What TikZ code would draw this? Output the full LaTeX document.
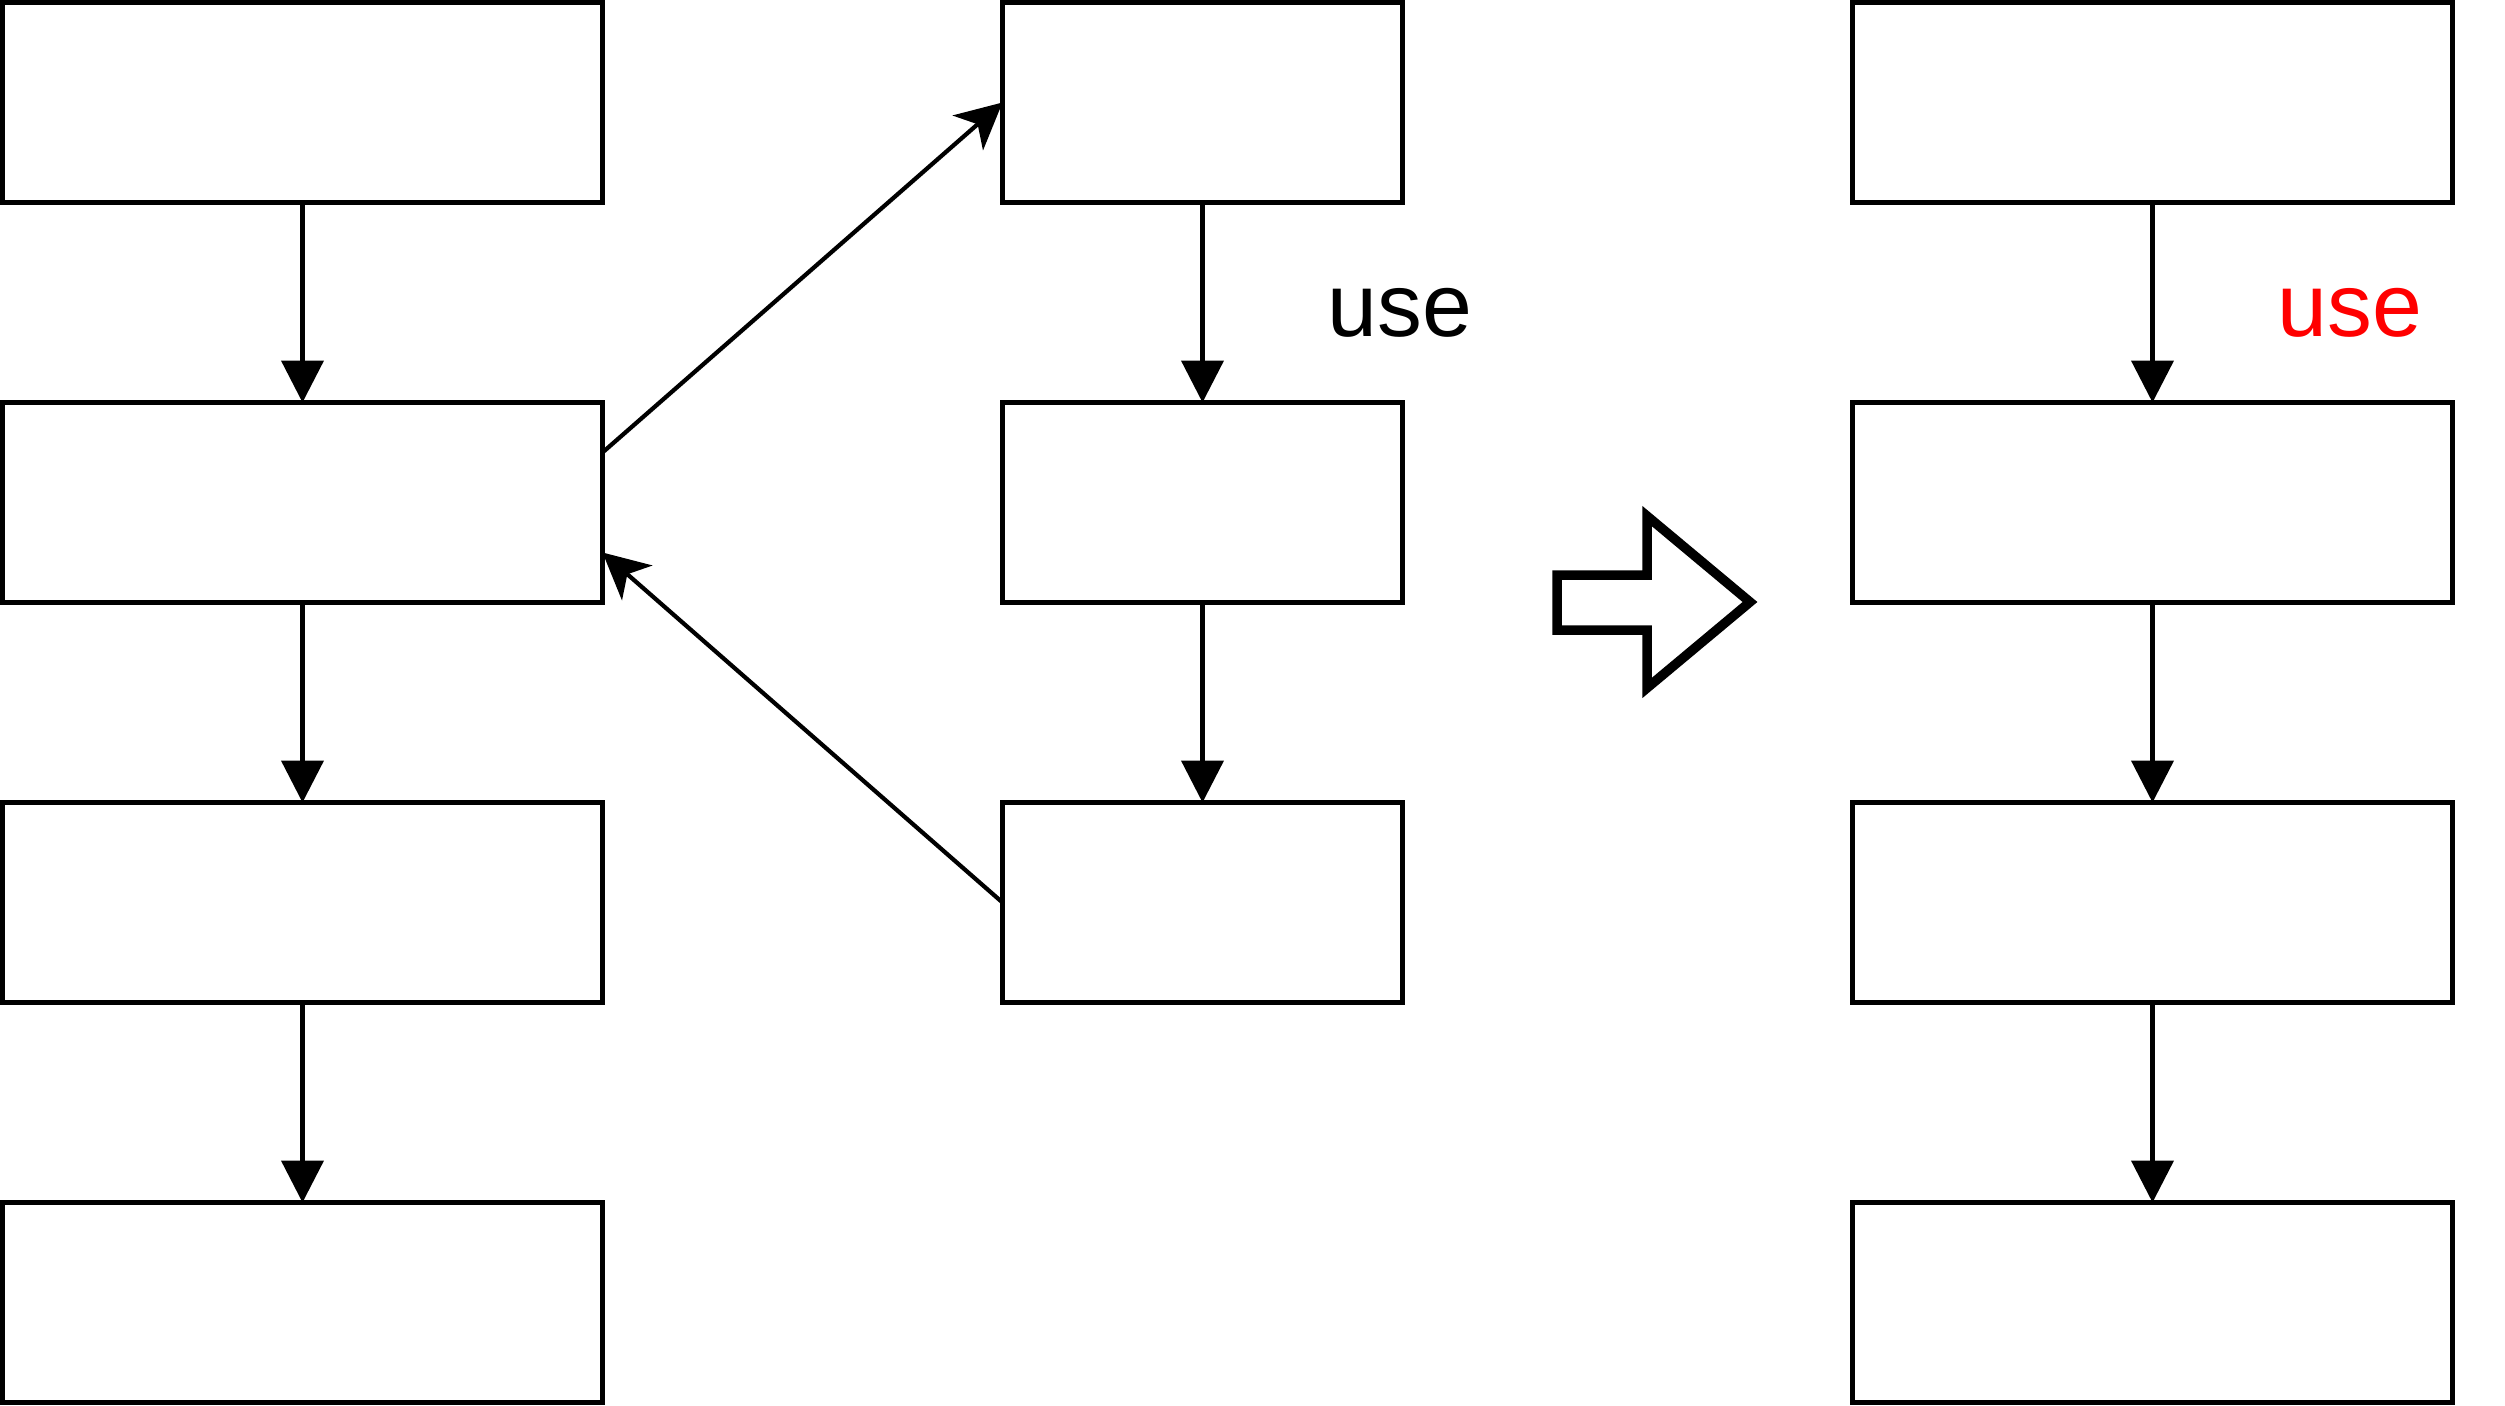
\documentclass[tikz,border=0pt]{standalone}
\usepackage{fontspec}
\setmainfont{Liberation Sans}
\usetikzlibrary{arrows.meta, positioning}

\begin{document}
\begin{tikzpicture}[
    blk/.style={draw, line width=1.2pt, minimum width=6cm, minimum height=2cm, inner sep=0pt, outer sep=0pt},
    narrow/.style={blk, minimum width=4cm},
    flow/.style={line width=1.2pt, -{Triangle[length=0.42cm, width=0.42cm]}},
    jump/.style={line width=1.2pt, -{Stealth[length=0.46cm, width=0.46cm, inset=0.13cm]}},
    lbl/.style={font=\fontsize{25.5}{30}\selectfont, inner sep=0pt, anchor=base}
]
    \useasboundingbox (0,0) rectangle (25.05,-14.05);

    % Left column
    \node[blk] (l1) at (3.025,-1.025) {};
    \node[blk] (l2) at (3.025,-5.025) {};
    \node[blk] (l3) at (3.025,-9.025) {};
    \node[blk] (l4) at (3.025,-13.025) {};
    \draw[flow] (l1) -- (l2);
    \draw[flow] (l2) -- (l3);
    \draw[flow] (l3) -- (l4);

    % Middle column
    \node[narrow] (m1) at (12.025,-1.025) {};
    \node[narrow] (m2) at (12.025,-5.025) {};
    \node[narrow] (m3) at (12.025,-9.025) {};
    \draw[flow] (m1) -- (m2);
    \draw[flow] (m2) -- (m3);
    \node[lbl] (use1) at (14.0,-3.36) {use};

    % Call and return
    \draw[jump] ([yshift=0.5cm]l2.east) -- (m1.west);
    \draw[jump] (m3.west) -- ([yshift=-0.5cm]l2.east);

    % Big arrow
    \draw[line width=2.7pt, miter limit=10] (15.57,-5.75) -- (16.47,-5.75) -- (16.47,-5.16)
        -- (17.50,-6.02) -- (16.47,-6.88) -- (16.47,-6.30) -- (15.57,-6.30) -- cycle;

    % Right column
    \node[blk] (r1) at (21.525,-1.025) {};
    \node[blk] (r2) at (21.525,-5.025) {};
    \node[blk] (r3) at (21.525,-9.025) {};
    \node[blk] (r4) at (21.525,-13.025) {};
    \draw[flow] (r1) -- (r2);
    \draw[flow] (r2) -- (r3);
    \draw[flow] (r3) -- (r4);
    \node[lbl, red] (use2) at (23.50,-3.36) {use};
\end{tikzpicture}
\end{document}
